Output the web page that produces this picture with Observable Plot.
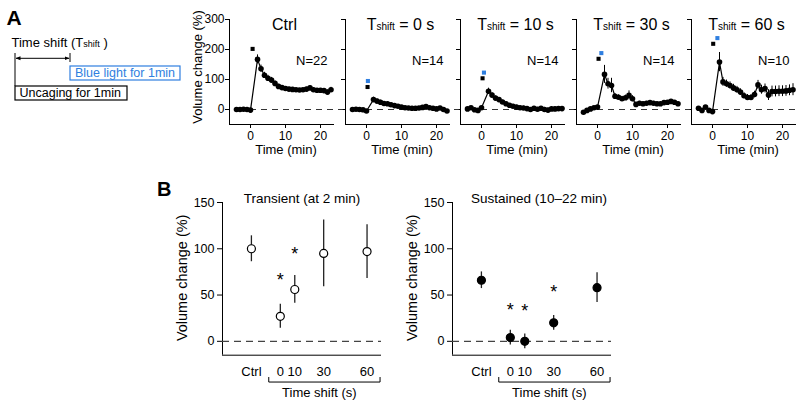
<!DOCTYPE html>
<html><head><meta charset="utf-8">
<script src="https://cdn.jsdelivr.net/npm/d3@7"></script>
<script src="https://cdn.jsdelivr.net/npm/@observablehq/plot@0.6"></script>
<style>
body{margin:0;background:#fff;font-family:"Liberation Sans",Arial,sans-serif;}
#fig{position:relative;width:800px;height:406px;overflow:hidden;background:#fff;}
.ttl{position:absolute;width:130px;text-align:center;font-size:16px;line-height:18px;color:#000;white-space:nowrap;pointer-events:none;}
.ttl .sub{font-size:10px;}
</style></head><body><div id="fig">
<svg style="position:absolute;left:0;top:0" width="190" height="110" font-family="Liberation Sans, Arial, sans-serif">
  <defs>
    <marker id="ah" viewBox="0 0 10 10" refX="9" refY="5" markerWidth="5" markerHeight="5" orient="auto-start-reverse">
      <path d="M0,1 L10,5 L0,9 z" fill="#000"/>
    </marker>
  </defs>
  <text x="6.5" y="25" font-size="21" font-weight="bold">A</text>
  <text x="11.5" y="46.7" font-size="13">Time shift (T<tspan font-size="9" dy="0.5">shift</tspan><tspan dy="-0.5"> )</tspan></text>
  <line x1="15" y1="53" x2="15" y2="86" stroke="#000" stroke-width="1"/>
  <line x1="70" y1="53" x2="70" y2="62" stroke="#000" stroke-width="1"/>
  <line x1="16" y1="58.3" x2="69" y2="58.3" stroke="#000" stroke-width="1" marker-start="url(#ah)" marker-end="url(#ah)"/>
  <rect x="70" y="66" width="110" height="14" fill="#fff" stroke="#2f7fe0" stroke-width="1.2"/>
  <text x="75" y="77.3" font-size="12.5" fill="#2f7fe0">Blue light for 1min</text>
  <rect x="15" y="86" width="112" height="14" fill="#fff" stroke="#000" stroke-width="1.2"/>
  <text x="19.5" y="97" font-size="12.5">Uncaging for 1min</text>
</svg>
<div style="position:absolute;left:157px;top:178px;font-size:20px;font-weight:bold;line-height:22px;">B</div>
</div>
<script>
// ---------- Panel A time courses ----------
const times = [-4,-3,-2,-1,0,2,3,4,5,6,7,8,9,10,11,12,13,14,15,16,17,18,19,20,21,22,23];
const panelTitles = ["Ctrl","0 s","10 s","30 s","60 s"];
const nLabels = ["N=22","N=14","N=14","N=14","N=10"];
const yTicksTop = [0,100,200,300];
const xTicksTop = [0,10,20];

const ctrlMean   = [0,0,1,0,-2, 167,136,114,104,98,87,77,73,70,68,67,66,65,66,68,72,66,64,64,63,58,66];
const ctrlSem    = [3,3,3,3,3, 15,12,10,10,9,8,7,6,6,6,5,5,5,5,6,7,6,6,6,6,7,8];
const shift0Mean = [0,1,0,-1,-5, 33,28,24,20,19,16,13,11,8,6,5,4,4,5,7,10,6,4,2,5,0,-5];
const shift0Sem  = [3,3,3,3,3, 8,7,7,6,6,6,5,5,5,5,5,5,5,5,5,6,5,5,5,5,5,5];
const shift10Mean= [2,6,-1,-3,6, 61,48,38,33,25,19,14,11,8,6,5,3,0,4,1,4,0,-2,2,2,3,3];
const shift10Sem = [4,4,4,4,4, 10,8,7,7,6,6,6,6,6,6,6,6,6,6,6,6,7,7,7,7,7,7];
const shift30Mean= [-9,-3,2,6,8, 117,86,80,44,41,36,39,47,36,17,21,19,21,23,21,19,19,23,24,27,24,19];
const shift30Sem = [4,4,4,4,4, 30,18,24,9,8,8,9,15,10,7,6,6,6,6,6,6,6,6,6,6,6,6];
const shift60Mean= [4,-3,8,-3,-7, 158,92,86,80,72,66,58,46,40,40,50,82,66,70,48,60,60,61,61,62,64,66];
const shift60Sem = [5,5,5,5,5, 32,15,12,12,12,11,11,10,10,10,11,15,15,15,18,18,18,18,18,18,18,20];

const uncageX = [0.6,0.3,0.3,0.3,0.2];
const uncageY = [202,75,104,169,219];
const blueX   = [null,0.4,0.7,1.1,1.4];
const blueY   = [null,95,123,188,238];

// ---------- Panel B summaries ----------
const shiftCats = ["Ctrl","0","10","30","60"];
const shiftPos  = [-20,0,10,30,60];
const transMean = [100,27,56,95,97];
const transSem  = [14,13,15,36,29];
const transStar = [null,71,100,null,null];
const sustMean  = [66,4,0,20,58];
const sustSem   = [9,8,8,8,16];
const sustStar  = [null,39,38,58,null];

const fig = document.getElementById("fig");
const FONT = "Liberation Sans, Arial, sans-serif";
const means = [ctrlMean, shift0Mean, shift10Mean, shift30Mean, shift60Mean];
const sems  = [ctrlSem, shift0Sem, shift10Sem, shift30Sem, shift60Sem];
const topAxisX = [229, 345, 460, 576, 691];

means.forEach((m, i) => {
  const data = times.map((t, k) => ({t, m: m[k], s: sems[i][k]}));
  const stim = [{x: uncageX[i], y: uncageY[i], c: "#000"}];
  if (blueY[i] != null) stim.push({x: blueX[i], y: blueY[i], c: "#2f7fe0"});
  const ml = i === 0 ? 60 : 12;
  const yAxis = i === 0
    ? Plot.axisY({ticks: yTicksTop, tickSize: 4, tickPadding: 1, label: null, fontSize: 12})
    : Plot.axisY({ticks: yTicksTop, tickSize: 4, tickPadding: 1, label: null, tickFormat: () => ""});
  const svg = Plot.plot({
    width: ml + 105 + 12, height: 160,
    marginLeft: ml, marginRight: 12, marginTop: 19, marginBottom: 36,
    style: {background: "transparent", overflow: "visible", fontFamily: FONT, fontSize: "12px", color: "#000"},
    x: {domain: [-6, 24]},
    y: {domain: [-50, 300]},
    marks: [
      Plot.ruleX([-6], {y1: -50, y2: 300, stroke: "#000"}),
      Plot.ruleY([-50], {x1: -6, x2: 24, stroke: "#000"}),
      yAxis,
      Plot.axisX({ticks: xTicksTop, tickSize: 4, tickPadding: 3, label: null}),
      Plot.text(["Time (min)"], {text: d => d, frameAnchor: "bottom", textAnchor: "middle", lineAnchor: "middle", dy: 25, dx: 4, fontSize: 13}),
      ...(i === 0 ? [Plot.text(["Volume change (%)"], {text: d => d, frameAnchor: "left", rotate: -90, textAnchor: "middle", lineAnchor: "middle", dx: -32, dy: -5, fontSize: 13})] : []),
      Plot.ruleY([0], {x1: 0, x2: 26.5, stroke: "#333", strokeDasharray: "6,5"}),
      Plot.ruleX(data, {x: "t", y1: d => d.m - d.s, y2: d => d.m + d.s, stroke: "#000", strokeWidth: 1}),
      Plot.line(data, {x: "t", y: "m", stroke: "#000", strokeWidth: 1.2}),
      Plot.dot(data, {x: "t", y: "m", r: 2.8, fill: "#000"}),
      Plot.dot(stim, {x: "x", y: "y", symbol: "square", r: 2.3, fill: "c"}),
      Plot.text([nLabels[i]], {text: d => d, x: 22, y: 163, textAnchor: "end", fontSize: 13})
    ]
  });
  svg.style.position = "absolute";
  svg.style.left = (topAxisX[i] - ml) + "px";
  svg.style.top = "0px";
  svg.style.zIndex = String(10 - i);
  fig.append(svg);

  const t = document.createElement("div");
  t.className = "ttl";
  t.style.left = (topAxisX[i] + 55.5 - 65) + "px";
  t.style.top = "16px";
  t.style.zIndex = "20";
  if (i === 0) t.textContent = panelTitles[i];
  else t.innerHTML = 'T<span class="sub">shift</span> = ' + panelTitles[i];
  fig.append(t);
});

function summary(meanArr, semArr, starArr, title, filled, axisLeft, titleDx) {
  const data = shiftPos.map((x, k) => ({x, m: meanArr[k], s: semArr[k], star: starArr[k]}));
  const stars = data.filter(d => d.star != null);
  const shiftOnly = shiftPos.slice(1);
  const bx0 = d3.min(shiftOnly) - 8, bx1 = d3.max(shiftOnly) + 9;
  const bracket = [{x: bx0, y: -39}, {x: bx0, y: -44}, {x: bx1, y: -44}, {x: bx1, y: -39}];
  const ml = 60, mt = 20, ph = 152.7;
  const svg = Plot.plot({
    width: ml + 159 + 10, height: 224,
    marginLeft: ml, marginRight: 10, marginTop: mt, marginBottom: 224 - mt - ph,
    style: {background: "transparent", overflow: "visible", fontFamily: FONT, fontSize: "12.5px", color: "#000"},
    x: {domain: [-40, 70]},
    y: {domain: [-15, 150]},
    marks: [
      Plot.ruleX([-40], {y1: -15, y2: 150, stroke: "#000"}),
      Plot.ruleY([-15], {x1: -40, x2: 70, stroke: "#000"}),
      Plot.axisY({ticks: [0,50,100,150], tickSize: 5, tickPadding: 3, label: null}),
      Plot.axisX({ticks: shiftPos, tickFormat: d => shiftCats[shiftPos.indexOf(d)], tickSize: 0, tickPadding: 12, label: null, fontSize: 13}),
      Plot.ruleY([0], {x1: -40, x2: 70, stroke: "#444", strokeDasharray: "7,5", strokeWidth: 1.2}),
      Plot.ruleX(data, {x: "x", y1: d => d.m - d.s, y2: d => d.m + d.s, stroke: "#222", strokeWidth: 1.3}),
      Plot.dot(data, {x: "x", y: "m", r: 4, fill: filled ? "#000" : "#fff", stroke: "#000", strokeWidth: 1.2}),
      Plot.text(stars, {x: "x", y: "star", text: () => "*", fontSize: 18, dy: 5}),
      Plot.line(bracket, {x: "x", y: "y", stroke: "#000", strokeWidth: 1}),
      Plot.text(["Time shift (s)"], {text: d => d, x: 27, frameAnchor: "bottom", textAnchor: "middle", lineAnchor: "middle", dy: 37.7, fontSize: 13}),
      Plot.text([title], {text: d => d, frameAnchor: "top", textAnchor: "middle", lineAnchor: "middle", dy: -4.3, dx: titleDx, fontSize: 13.5}),
      Plot.text(["Volume change (%)"], {text: d => d, frameAnchor: "left", rotate: -90, textAnchor: "middle", lineAnchor: "middle", dx: -40, dy: -1, fontSize: 14.5})
    ]
  });
  svg.style.position = "absolute";
  svg.style.left = (axisLeft - ml) + "px";
  svg.style.top = (202.3 - mt) + "px";
  fig.append(svg);
}
summary(transMean, transSem, transStar, "Transient (at 2 min)", false, 222, 0);
summary(sustMean, sustSem, sustStar, "Sustained (10\u201322 min)", true, 451.7, 7);
</script>
</body></html>
